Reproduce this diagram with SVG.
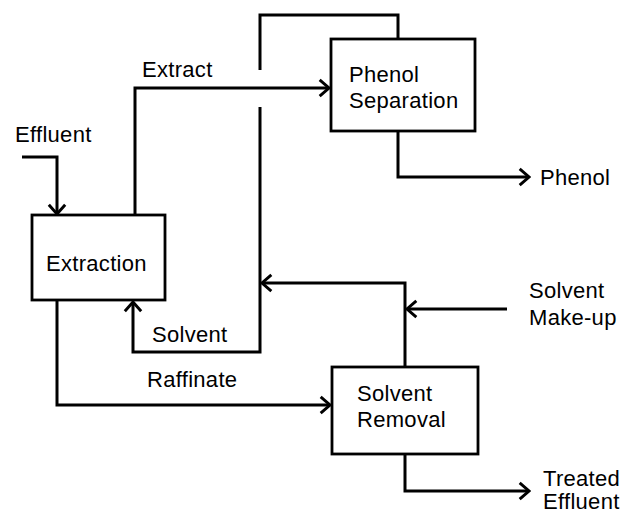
<svg xmlns="http://www.w3.org/2000/svg" width="624" height="513" viewBox="0 0 624 513">
<style>
.box{fill:#fff;stroke:#000;stroke-width:2.8}
.ln{fill:none;stroke:#000;stroke-width:3}
.ar{fill:none;stroke:#000;stroke-width:2.5}
text{font-family:"Liberation Sans",Arial,sans-serif;font-size:22px;letter-spacing:0.3px;fill:#000}
</style>
<defs>
<marker id="a" markerUnits="userSpaceOnUse" markerWidth="14" markerHeight="20" viewBox="-10 -8 12 16" refX="0" refY="0" orient="auto">
<path d="M-8,-7 L0,0 L-8,7" class="ar"/>
</marker>
</defs>
<rect width="624" height="513" fill="#fff"/>
<g id="connectors">
<path class="ln" d="M22,157 H57 V214" marker-end="url(#a)"/>
<path class="ln" d="M135,215 V88 H329" marker-end="url(#a)"/>
<path class="ln" d="M260,70 V15 H398 V39"/>
<path class="ln" d="M260,107 V352 H133 V302" marker-end="url(#a)"/>
<path class="ln" d="M398,131 V177 H529" marker-end="url(#a)"/>
<path class="ln" d="M57,300 V405 H330" marker-end="url(#a)"/>
<path class="ln" d="M405,367 V283 H262" marker-end="url(#a)"/>
<path class="ln" d="M507,309 H407" marker-end="url(#a)"/>
<path class="ln" d="M405,454 V491 H529" marker-end="url(#a)"/>
</g>
<g id="extraction">
<rect class="box" x="32" y="215" width="133" height="85"/>
<text x="46" y="271">Extraction</text>
</g>
<g id="phenol-separation">
<rect class="box" x="331" y="39" width="144" height="92"/>
<text x="349" y="82">Phenol</text>
<text x="349" y="108">Separation</text>
</g>
<g id="solvent-removal">
<rect class="box" x="332" y="367" width="146" height="87"/>
<text x="357" y="401">Solvent</text>
<text x="357" y="427">Removal</text>
</g>
<g id="labels">
<text x="15" y="142">Effluent</text>
<text x="142" y="77">Extract</text>
<text x="540" y="185">Phenol</text>
<text x="529" y="298">Solvent</text>
<text x="529" y="325">Make-up</text>
<text x="152" y="342">Solvent</text>
<text x="147" y="387">Raffinate</text>
<text x="543" y="486">Treated</text>
<text x="543" y="509">Effluent</text>
</g>
</svg>
